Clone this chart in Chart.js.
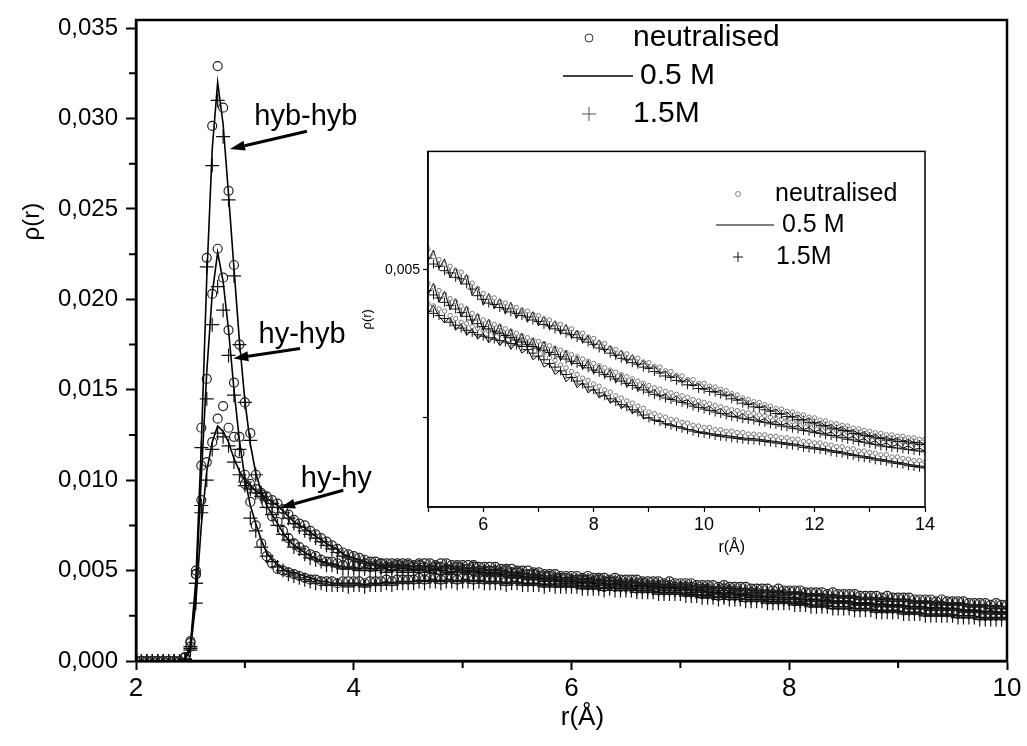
<!DOCTYPE html>
<html>
<head>
<meta charset="utf-8">
<script src="https://cdn.jsdelivr.net/npm/chart.js@4.4.0/dist/chart.umd.min.js"></script>
<style>
  body { margin: 0; background: #fff; }
  #wrap { position: relative; width: 1027px; height: 746px; }
  #inset { position: absolute; left: 340px; top: 140px; }
</style>
</head>
<body>
<div id="wrap">
  <canvas id="main" width="1027" height="746"></canvas>
  <canvas id="inset" width="600" height="430"></canvas>
</div>
<script>
// series names (same three in every group)
const seriesNames = ['neutralised', '0.5 M', '1.5M'];

// main plot: r from 2.00 to 10.00 A every 0.05
const hybhybNeut = [
  0,0,0,0,0,0,0,0,0,.0002,
  .0011,.0050,.0129,.0223,.0296,.0329,.0306,.0260,.0219,.0175,
  .0143,.0126,.0103,.0093,.0087,.0080,.0077,.0072,.0068,.0065,
  .0063,.0061,.0059,.0058,.0056,.0055,.0055,.0054,.0053,.0054,
  .0053,.0053,.0054,.0052,.0053,.0054,.0052,.0052,.0053,.0052,
  .0053,.0052,.0053,.0052,.0051,.0052,.0052,.0051,.0051,.0052,
  .0051,.0051,.0052,.0050,.0050,.0050,.0050,.0049,.0050,.0049,
  .0049,.0048,.0048,.0048,.0047,.0047,.0047,.0046,.0046,.0046,
  .0045,.0045,.0045,.0045,.0044,.0045,.0044,.0044,.0044,.0043,
  .0043,.0043,.0043,.0043,.0042,.0042,.0042,.0042,.0042,.0041,
  .0041,.0041,.0041,.0040,.0040,.0040,.0039,.0039,.0040,.0039,
  .0039,.0038,.0038,.0038,.0038,.0037,.0037,.0037,.0036,.0037,
  .0036,.0036,.0036,.0035,.0035,.0035,.0035,.0034,.0034,.0034,
  .0034,.0034,.0033,.0033,.0033,.0033,.0032,.0033,.0032,.0032,
  .0032,.0032,.0031,.0031,.0031,.0031,.0030,.0031,.0030,.0030,
  .0030,.0030,.0029,.0029,.0029,.0029,.0029,.0028,.0028,.0028,
  .0028];
const hybhyb05 = [
  0,0,0,0,0,0,0,0,0,.0001,
  .0009,.0045,.0120,.0212,.0283,.0320,.0297,.0258,.0217,.0177,
  .0144,.0120,.0104,.0094,.0086,.0081,.0076,.0071,.0067,.0064,
  .0062,.0060,.0058,.0057,.0055,.0054,.0054,.0053,.0052,.0052,
  .0052,.0051,.0052,.0051,.0051,.0052,.0051,.0050,.0051,.0051,
  .0051,.0050,.0051,.0050,.0050,.0051,.0050,.0050,.0049,.0050,
  .0050,.0049,.0050,.0049,.0049,.0048,.0049,.0048,.0048,.0047,
  .0047,.0047,.0046,.0046,.0046,.0045,.0045,.0045,.0044,.0044,
  .0044,.0044,.0043,.0044,.0043,.0043,.0043,.0042,.0043,.0042,
  .0042,.0042,.0041,.0042,.0041,.0041,.0041,.0040,.0041,.0040,
  .0040,.0040,.0039,.0039,.0039,.0038,.0038,.0038,.0037,.0038,
  .0037,.0037,.0037,.0036,.0036,.0036,.0035,.0036,.0035,.0035,
  .0035,.0035,.0034,.0034,.0034,.0034,.0033,.0034,.0033,.0033,
  .0033,.0033,.0032,.0032,.0032,.0032,.0031,.0032,.0031,.0031,
  .0031,.0031,.0030,.0030,.0030,.0030,.0029,.0030,.0029,.0029,
  .0029,.0029,.0028,.0028,.0028,.0028,.0027,.0028,.0027,.0027,
  .0027];
const hybhyb15 = [
  0,0,0,0,0,0,0,0,0,.0001,
  .0008,.0043,.0118,.0218,.0274,.0310,.0290,.0255,.0213,.0175,
  .0143,.0122,.0103,.0093,.0085,.0081,.0075,.0070,.0067,.0063,
  .0062,.0059,.0057,.0056,.0055,.0053,.0053,.0052,.0051,.0051,
  .0051,.0050,.0051,.0050,.0050,.0051,.0049,.0050,.0050,.0049,
  .0050,.0049,.0050,.0049,.0049,.0050,.0048,.0049,.0048,.0049,
  .0049,.0048,.0049,.0047,.0048,.0047,.0048,.0047,.0047,.0046,
  .0046,.0046,.0045,.0045,.0045,.0044,.0044,.0044,.0043,.0043,
  .0043,.0043,.0042,.0043,.0042,.0042,.0042,.0041,.0042,.0041,
  .0041,.0041,.0040,.0041,.0040,.0040,.0040,.0039,.0040,.0039,
  .0039,.0039,.0038,.0038,.0038,.0037,.0037,.0037,.0036,.0037,
  .0036,.0036,.0036,.0035,.0035,.0035,.0034,.0035,.0034,.0034,
  .0034,.0034,.0033,.0033,.0033,.0033,.0032,.0033,.0032,.0032,
  .0032,.0032,.0031,.0031,.0031,.0031,.0030,.0031,.0030,.0030,
  .0030,.0030,.0029,.0029,.0029,.0029,.0028,.0029,.0028,.0028,
  .0028,.0028,.0027,.0027,.0027,.0027,.0026,.0027,.0026,.0026,
  .0026];
const hyhybNeut = [
  0,0,0,0,0,0,0,0,0,.0002,
  .0010,.0048,.0108,.0156,.0203,.0228,.0212,.0183,.0154,.0124,
  .0098,.0088,.0075,.0065,.0058,.0054,.0051,.0050,.0049,.0048,
  .0047,.0046,.0045,.0045,.0044,.0044,.0044,.0043,.0044,.0044,
  .0044,.0044,.0043,.0044,.0044,.0044,.0045,.0044,.0045,.0045,
  .0045,.0045,.0046,.0045,.0046,.0046,.0045,.0046,.0046,.0045,
  .0046,.0046,.0045,.0046,.0045,.0045,.0045,.0045,.0044,.0045,
  .0045,.0044,.0044,.0044,.0044,.0043,.0044,.0043,.0043,.0043,
  .0043,.0043,.0042,.0042,.0042,.0042,.0041,.0042,.0041,.0041,
  .0041,.0041,.0040,.0040,.0040,.0040,.0039,.0039,.0039,.0039,
  .0039,.0038,.0038,.0038,.0037,.0037,.0037,.0036,.0037,.0036,
  .0036,.0036,.0035,.0035,.0035,.0035,.0034,.0034,.0034,.0034,
  .0034,.0033,.0033,.0033,.0032,.0032,.0032,.0032,.0031,.0031,
  .0031,.0031,.0030,.0030,.0030,.0030,.0029,.0029,.0029,.0029,
  .0029,.0028,.0028,.0028,.0028,.0027,.0027,.0027,.0027,.0027,
  .0027,.0026,.0026,.0026,.0026,.0025,.0025,.0025,.0025,.0025,
  .0025];
const hyhyb05 = [
  0,0,0,0,0,0,0,0,0,.0001,
  .0008,.0040,.0102,.0160,.0203,.0226,.0210,.0183,.0150,.0122,
  .0101,.0086,.0076,.0067,.0060,.0056,.0053,.0051,.0049,.0049,
  .0048,.0047,.0046,.0045,.0044,.0044,.0043,.0043,.0043,.0043,
  .0043,.0043,.0042,.0043,.0043,.0043,.0044,.0043,.0044,.0044,
  .0044,.0044,.0045,.0044,.0045,.0045,.0044,.0045,.0045,.0044,
  .0045,.0045,.0044,.0045,.0044,.0044,.0044,.0044,.0043,.0044,
  .0044,.0043,.0043,.0043,.0043,.0042,.0043,.0042,.0042,.0042,
  .0042,.0042,.0041,.0041,.0041,.0041,.0040,.0041,.0040,.0040,
  .0040,.0040,.0039,.0039,.0039,.0039,.0038,.0038,.0038,.0038,
  .0038,.0037,.0037,.0037,.0036,.0036,.0036,.0035,.0036,.0035,
  .0035,.0035,.0034,.0034,.0034,.0034,.0033,.0033,.0033,.0033,
  .0033,.0032,.0032,.0032,.0031,.0031,.0031,.0031,.0030,.0030,
  .0030,.0030,.0029,.0029,.0029,.0029,.0028,.0028,.0028,.0028,
  .0028,.0027,.0027,.0027,.0027,.0026,.0026,.0026,.0026,.0026,
  .0026,.0025,.0025,.0025,.0025,.0024,.0024,.0024,.0024,.0024,
  .0024];
const hyhyb15 = [
  0,0,0,0,0,0,0,0,0,.0001,
  .0007,.0043,.0086,.0145,.0186,.0207,.0194,.0169,.0147,.0117,
  .0097,.0079,.0072,.0063,.0058,.0055,.0052,.0050,.0048,.0047,
  .0046,.0045,.0044,.0043,.0043,.0042,.0042,.0042,.0042,.0041,
  .0042,.0042,.0041,.0042,.0042,.0042,.0043,.0042,.0043,.0043,
  .0043,.0043,.0044,.0043,.0044,.0044,.0043,.0044,.0044,.0043,
  .0044,.0044,.0043,.0044,.0043,.0043,.0043,.0043,.0042,.0043,
  .0043,.0042,.0042,.0042,.0042,.0041,.0042,.0041,.0041,.0041,
  .0041,.0041,.0040,.0040,.0040,.0040,.0039,.0040,.0039,.0039,
  .0039,.0039,.0038,.0038,.0038,.0038,.0037,.0037,.0037,.0037,
  .0037,.0036,.0036,.0036,.0035,.0035,.0035,.0034,.0035,.0034,
  .0034,.0034,.0033,.0033,.0033,.0033,.0032,.0032,.0032,.0032,
  .0032,.0031,.0031,.0031,.0030,.0030,.0030,.0030,.0029,.0029,
  .0029,.0029,.0028,.0028,.0028,.0028,.0027,.0027,.0027,.0027,
  .0027,.0026,.0026,.0026,.0026,.0025,.0025,.0025,.0025,.0025,
  .0025,.0024,.0024,.0024,.0024,.0023,.0023,.0023,.0023,.0023,
  .0023];
const hyhyNeut = [
  0,0,0,0,0,0,0,0,0,.0002,
  .0008,.0048,.0089,.0110,.0121,.0134,.0141,.0129,.0124,.0115,
  .0103,.0098,.0095,.0092,.0091,.0089,.0087,.0084,.0081,.0078,
  .0076,.0075,.0072,.0070,.0068,.0066,.0064,.0062,.0060,.0059,
  .0058,.0057,.0056,.0055,.0055,.0054,.0054,.0054,.0054,.0054,
  .0054,.0053,.0054,.0054,.0054,.0053,.0054,.0054,.0053,.0053,
  .0053,.0053,.0053,.0052,.0052,.0052,.0052,.0051,.0051,.0051,
  .0050,.0050,.0050,.0049,.0049,.0048,.0048,.0048,.0047,.0047,
  .0047,.0047,.0046,.0047,.0046,.0046,.0046,.0045,.0046,.0045,
  .0045,.0045,.0045,.0044,.0044,.0044,.0044,.0043,.0044,.0043,
  .0043,.0043,.0043,.0042,.0042,.0042,.0042,.0041,.0042,.0041,
  .0041,.0041,.0041,.0040,.0040,.0040,.0040,.0039,.0040,.0039,
  .0039,.0039,.0039,.0038,.0038,.0038,.0038,.0037,.0038,.0037,
  .0037,.0037,.0037,.0036,.0036,.0036,.0036,.0035,.0036,.0035,
  .0035,.0035,.0035,.0034,.0034,.0034,.0034,.0033,.0034,.0033,
  .0033,.0033,.0033,.0032,.0032,.0032,.0032,.0031,.0032,.0031,
  .0031];
const hyhy05 = [
  0,0,0,0,0,0,0,0,0,.0001,
  .0006,.0033,.0075,.0105,.0121,.0130,.0127,.0121,.0112,.0105,
  .0100,.0097,.0094,.0092,.0090,.0088,.0086,.0083,.0080,.0077,
  .0075,.0074,.0071,.0069,.0067,.0065,.0063,.0062,.0059,.0058,
  .0057,.0056,.0055,.0054,.0054,.0053,.0053,.0053,.0053,.0053,
  .0053,.0052,.0053,.0052,.0053,.0052,.0052,.0053,.0052,.0052,
  .0052,.0051,.0052,.0051,.0051,.0050,.0051,.0050,.0050,.0049,
  .0049,.0049,.0048,.0048,.0048,.0047,.0047,.0047,.0046,.0046,
  .0046,.0046,.0045,.0046,.0045,.0045,.0045,.0044,.0045,.0044,
  .0044,.0044,.0044,.0043,.0043,.0043,.0043,.0042,.0043,.0042,
  .0042,.0042,.0042,.0041,.0041,.0041,.0041,.0040,.0041,.0040,
  .0040,.0040,.0040,.0039,.0039,.0039,.0039,.0038,.0039,.0038,
  .0038,.0038,.0038,.0037,.0037,.0037,.0037,.0036,.0037,.0036,
  .0036,.0036,.0036,.0035,.0035,.0035,.0035,.0034,.0035,.0034,
  .0034,.0034,.0034,.0033,.0033,.0033,.0033,.0032,.0033,.0032,
  .0032,.0032,.0032,.0031,.0031,.0031,.0031,.0030,.0031,.0030,
  .0030];
const hyhy15 = [
  0,0,0,0,0,0,0,0,0,.0001,
  .0006,.0032,.0082,.0100,.0117,.0126,.0124,.0119,.0110,.0103,
  .0099,.0095,.0093,.0091,.0089,.0087,.0085,.0082,.0079,.0076,
  .0074,.0072,.0070,.0068,.0066,.0064,.0062,.0060,.0058,.0057,
  .0056,.0055,.0054,.0053,.0053,.0052,.0052,.0052,.0052,.0052,
  .0052,.0051,.0052,.0051,.0052,.0051,.0051,.0052,.0051,.0051,
  .0051,.0050,.0051,.0050,.0050,.0049,.0050,.0049,.0049,.0048,
  .0048,.0048,.0047,.0047,.0047,.0046,.0046,.0046,.0045,.0045,
  .0045,.0045,.0044,.0045,.0044,.0044,.0044,.0043,.0044,.0043,
  .0043,.0043,.0043,.0042,.0042,.0042,.0042,.0041,.0042,.0041,
  .0041,.0041,.0041,.0040,.0040,.0040,.0040,.0039,.0040,.0039,
  .0039,.0039,.0039,.0038,.0038,.0038,.0038,.0037,.0038,.0037,
  .0037,.0037,.0037,.0036,.0036,.0036,.0036,.0035,.0036,.0035,
  .0035,.0035,.0035,.0034,.0034,.0034,.0034,.0033,.0034,.0033,
  .0033,.0033,.0033,.0032,.0032,.0032,.0032,.0031,.0032,.0031,
  .0031,.0031,.0031,.0030,.0030,.0030,.0030,.0029,.0030,.0029,
  .0029];

// inset: r from 5.0 to 14.0 A every 0.1, three bands
const insetTopNeut = [
  .00528,.00518,.00514,.00508,.00505,.00499,.00497,.00490,.00482,.00475,
  .00468,.00463,.00462,.00457,.00455,.00451,.00449,.00445,.00444,.00440,
  .00438,.00433,.00432,.00427,.00426,.00421,.00420,.00415,.00414,.00409,
  .00407,.00401,.00400,.00394,.00392,.00387,.00386,.00381,.00380,.00375,
  .00374,.00369,.00368,.00363,.00362,.00357,.00356,.00351,.00351,.00346,
  .00346,.00342,.00341,.00338,.00336,.00332,.00330,.00326,.00324,.00321,
  .00320,.00317,.00315,.00312,.00311,.00308,.00307,.00304,.00303,.00300,
  .00299,.00296,.00295,.00292,.00291,.00289,.00288,.00285,.00284,.00282,
  .00281,.00279,.00278,.00276,.00276,.00274,.00274,.00272,.00272,.00270,
  .00270];
const insetTop05 = [
  .00512,.00527,.00502,.00515,.00489,.00503,.00480,.00494,.00465,.00477,
  .00452,.00468,.00447,.00461,.00440,.00456,.00434,.00449,.00429,.00443,
  .00424,.00437,.00419,.00431,.00413,.00426,.00407,.00418,.00401,.00411,
  .00395,.00405,.00388,.00397,.00381,.00391,.00374,.00385,.00369,.00377,
  .00366,.00370,.00360,.00363,.00354,.00358,.00348,.00352,.00343,.00346,
  .00338,.00341,.00334,.00337,.00329,.00332,.00323,.00326,.00317,.00320,
  .00313,.00316,.00308,.00311,.00304,.00307,.00300,.00303,.00296,.00299,
  .00292,.00294,.00288,.00290,.00284,.00287,.00281,.00283,.00277,.00280,
  .00274,.00277,.00271,.00274,.00269,.00272,.00267,.00270,.00265,.00267,
  .00263];
const insetTop15 = [
  .00516,.00508,.00505,.00499,.00496,.00490,.00488,.00481,.00474,.00465,
  .00460,.00455,.00453,.00449,.00447,.00443,.00441,.00438,.00436,.00432,
  .00430,.00426,.00424,.00420,.00418,.00414,.00412,.00408,.00406,.00402,
  .00399,.00394,.00392,.00387,.00384,.00380,.00378,.00374,.00372,.00368,
  .00366,.00362,.00360,.00356,.00354,.00350,.00348,.00344,.00343,.00339,
  .00338,.00335,.00334,.00331,.00329,.00325,.00323,.00319,.00317,.00314,
  .00313,.00310,.00308,.00305,.00304,.00301,.00300,.00297,.00296,.00293,
  .00292,.00289,.00288,.00285,.00284,.00282,.00281,.00278,.00277,.00275,
  .00274,.00272,.00271,.00269,.00269,.00267,.00267,.00265,.00265,.00263,
  .00263];
const insetMidNeut = [
  .00482,.00477,.00472,.00467,.00461,.00457,.00451,.00447,.00441,.00437,
  .00432,.00429,.00426,.00423,.00420,.00417,.00414,.00411,.00408,.00405,
  .00403,.00400,.00397,.00394,.00391,.00388,.00385,.00382,.00379,.00376,
  .00373,.00370,.00367,.00364,.00361,.00358,.00355,.00352,.00349,.00346,
  .00343,.00340,.00338,.00335,.00333,.00331,.00329,.00327,.00324,.00322,
  .00320,.00318,.00316,.00314,.00312,.00310,.00309,.00307,.00306,.00305,
  .00303,.00302,.00300,.00299,.00297,.00296,.00294,.00293,.00291,.00290,
  .00288,.00287,.00285,.00284,.00282,.00281,.00279,.00278,.00276,.00275,
  .00273,.00272,.00270,.00269,.00268,.00267,.00266,.00265,.00264,.00263,
  .00262];
const insetMid05 = [
  .00466,.00482,.00456,.00471,.00446,.00461,.00436,.00451,.00427,.00441,
  .00418,.00433,.00412,.00427,.00406,.00420,.00399,.00414,.00394,.00407,
  .00389,.00403,.00383,.00396,.00377,.00390,.00371,.00383,.00365,.00377,
  .00359,.00371,.00354,.00365,.00347,.00359,.00341,.00352,.00336,.00346,
  .00333,.00338,.00328,.00332,.00324,.00329,.00321,.00324,.00316,.00319,
  .00312,.00315,.00308,.00312,.00304,.00307,.00300,.00305,.00298,.00301,
  .00295,.00298,.00292,.00295,.00289,.00292,.00286,.00289,.00283,.00286,
  .00280,.00283,.00277,.00280,.00274,.00277,.00271,.00274,.00268,.00271,
  .00265,.00268,.00262,.00265,.00260,.00263,.00258,.00261,.00256,.00258,
  .00254];
const insetMid15 = [
  .00472,.00466,.00462,.00456,.00452,.00447,.00442,.00437,.00432,.00427,
  .00423,.00420,.00417,.00414,.00411,.00408,.00405,.00402,.00399,.00396,
  .00394,.00391,.00388,.00385,.00382,.00379,.00376,.00373,.00370,.00367,
  .00364,.00361,.00358,.00355,.00352,.00349,.00346,.00343,.00340,.00337,
  .00334,.00331,.00329,.00326,.00324,.00322,.00320,.00318,.00315,.00313,
  .00311,.00309,.00307,.00305,.00303,.00301,.00300,.00298,.00297,.00296,
  .00294,.00293,.00291,.00290,.00288,.00287,.00285,.00284,.00282,.00281,
  .00279,.00278,.00276,.00275,.00273,.00272,.00270,.00269,.00267,.00266,
  .00264,.00263,.00261,.00260,.00259,.00258,.00257,.00256,.00255,.00254,
  .00253];
const insetLowNeut = [
  .00454,.00451,.00447,.00444,.00438,.00434,.00429,.00427,.00423,.00421,
  .00418,.00417,.00414,.00413,.00410,.00409,.00406,.00405,.00400,.00396,
  .00391,.00387,.00381,.00377,.00371,.00367,.00362,.00358,.00353,.00350,
  .00345,.00342,.00337,.00334,.00329,.00326,.00322,.00319,.00315,.00312,
  .00307,.00305,.00302,.00300,.00297,.00296,.00293,.00292,.00289,.00288,
  .00286,.00286,.00283,.00283,.00281,.00281,.00279,.00279,.00277,.00277,
  .00276,.00276,.00274,.00274,.00272,.00272,.00270,.00270,.00267,.00267,
  .00265,.00265,.00263,.00262,.00260,.00260,.00257,.00257,.00254,.00254,
  .00252,.00251,.00249,.00249,.00246,.00246,.00244,.00243,.00241,.00241,
  .00239];
const insetLow05 = [
  .00441,.00452,.00437,.00428,.00436,.00418,.00427,.00411,.00420,.00406,
  .00414,.00401,.00410,.00397,.00406,.00392,.00402,.00387,.00393,.00378,
  .00384,.00368,.00373,.00358,.00364,.00348,.00356,.00340,.00347,.00333,
  .00339,.00326,.00332,.00319,.00325,.00312,.00318,.00305,.00311,.00298,
  .00300,.00295,.00296,.00290,.00291,.00287,.00287,.00283,.00283,.00280,
  .00280,.00278,.00277,.00276,.00275,.00274,.00273,.00272,.00271,.00271,
  .00270,.00269,.00268,.00267,.00266,.00265,.00264,.00263,.00261,.00260,
  .00259,.00258,.00257,.00255,.00254,.00253,.00251,.00250,.00248,.00247,
  .00246,.00244,.00243,.00242,.00240,.00239,.00238,.00236,.00235,.00234,
  .00233];
const insetLow15 = [
  .00444,.00441,.00438,.00434,.00429,.00425,.00421,.00418,.00415,.00412,
  .00410,.00408,.00406,.00404,.00402,.00400,.00398,.00396,.00392,.00387,
  .00383,.00378,.00373,.00368,.00363,.00358,.00354,.00349,.00345,.00341,
  .00337,.00333,.00329,.00325,.00321,.00317,.00314,.00310,.00307,.00303,
  .00299,.00296,.00294,.00291,.00289,.00287,.00285,.00283,.00281,.00279,
  .00278,.00277,.00275,.00274,.00273,.00272,.00271,.00270,.00269,.00269,
  .00268,.00267,.00266,.00265,.00264,.00263,.00262,.00261,.00259,.00258,
  .00257,.00256,.00255,.00253,.00252,.00251,.00249,.00248,.00246,.00245,
  .00244,.00242,.00241,.00240,.00238,.00237,.00236,.00234,.00233,.00232,
  .00231];

// tick values
const xTicksMain = [2, 4, 6, 8, 10];
const xMinorMain = [3, 5, 7, 9];
const yTicksMain = [0, .005, .010, .015, .020, .025, .030, .035];
const yMinorMain = [.0025, .0075, .0125, .0175, .0225, .0275, .0325];
const xTicksInset = [5, 6, 7, 8, 9, 10, 11, 12, 13, 14];
const yTicksInset = [.003, .005];

// peak labels, anchored in data units
const peakLabels = ['hyb-hyb', 'hy-hyb', 'hy-hy'];
const peakLabelAt = [[3.56, .0301], [3.525, .01805], [3.84, .01006]];
const arrowFrom = [[3.57, .0293], [3.506, .01728], [3.904, .00944]];
const arrowTo = [[2.863, .02831], [2.894, .01673], [3.323, .00848]];

const SANS = "'Liberation Sans', Arial, sans-serif";
const NARROW = "'Liberation Sans Narrow', 'Liberation Sans', Arial, sans-serif";
Chart.defaults.font.family = SANS;
Chart.defaults.color = '#000';

function grid(start, step, n) {
  return Array.from({length: n}, (_, i) => +(start + i * step).toFixed(2));
}
const rMain = grid(2, 0.05, hybhyb05.length);
const rInset = grid(5, 0.1, insetTop05.length);

function pts(xs, ys) { return ys.map((y, i) => ({x: xs[i], y: y})); }

function makeSet(label, xs, ys, kind, big) {
  const base = {label: label, data: pts(xs, ys), pointHoverRadius: 0};
  if (kind === 'line') {
    return Object.assign(base, {showLine: true, borderColor: '#000', borderWidth: big ? 1.6 : 1,
      pointRadius: 0, tension: 0});
  }
  if (kind === 'circle') {
    return Object.assign(base, {showLine: false, pointStyle: 'circle', pointRadius: big ? 4.5 : 2.2,
      pointBorderColor: big ? '#222' : '#777', pointBackgroundColor: 'rgba(0,0,0,0)',
      pointBorderWidth: big ? 1.2 : 1});
  }
  return Object.assign(base, {showLine: false, pointStyle: 'cross', pointRadius: big ? 7 : 4.5,
    pointBorderColor: '#111', pointBorderWidth: big ? 1.2 : 1});
}

function groupSets(xs, groups, big) {
  const out = [];
  groups.forEach(g => {
    out.push(makeSet(seriesNames[0], xs, g[0], 'circle', big));
    out.push(makeSet(seriesNames[1], xs, g[1], 'line', big));
    out.push(makeSet(seriesNames[2], xs, g[2], 'cross', big));
  });
  return out;
}

function drawArrow(ctx, x1, y1, x2, y2) {
  const a = Math.atan2(y2 - y1, x2 - x1);
  const head = 15, half = 5;
  const bx = x2 - head * Math.cos(a), by = y2 - head * Math.sin(a);
  ctx.lineWidth = 3;
  ctx.beginPath(); ctx.moveTo(x1, y1); ctx.lineTo(bx, by); ctx.stroke();
  ctx.beginPath(); ctx.moveTo(x2, y2);
  ctx.lineTo(bx + half * Math.sin(a), by - half * Math.cos(a));
  ctx.lineTo(bx - half * Math.sin(a), by + half * Math.cos(a));
  ctx.closePath(); ctx.fill();
}

function drawLegend(ctx, L) {
  ctx.save();
  ctx.font = L.font + 'px ' + SANS;
  ctx.textBaseline = 'middle'; ctx.textAlign = 'left'; ctx.fillStyle = '#000';
  ctx.strokeStyle = L.circleColor; ctx.lineWidth = 1;
  ctx.beginPath(); ctx.arc(L.markX, L.rows[0], L.circleR, 0, 2 * Math.PI); ctx.stroke();
  ctx.fillText(seriesNames[0], L.textX[0], L.rows[0]);
  ctx.strokeStyle = '#000'; ctx.lineWidth = L.lineW;
  ctx.beginPath(); ctx.moveTo(L.lineFrom, L.rows[1]); ctx.lineTo(L.lineTo, L.rows[1]); ctx.stroke();
  ctx.fillText(seriesNames[1], L.textX[1], L.rows[1]);
  ctx.strokeStyle = L.plusColor; ctx.lineWidth = 1;
  ctx.beginPath();
  ctx.moveTo(L.markX - L.plusR, L.rows[2]); ctx.lineTo(L.markX + L.plusR, L.rows[2]);
  ctx.moveTo(L.markX, L.rows[2] - L.plusR); ctx.lineTo(L.markX, L.rows[2] + L.plusR);
  ctx.stroke();
  ctx.fillText(seriesNames[2], L.textX[2], L.rows[2]);
  ctx.restore();
}

function fmt(v) { return v.toFixed(3).replace('.', ','); }

// ---------- main chart ----------
const mainDecor = {
  id: 'mainDecor',
  afterDraw(chart) {
    const ctx = chart.ctx, a = chart.chartArea, sx = chart.scales.x, sy = chart.scales.y;
    ctx.save();
    ctx.strokeStyle = '#000'; ctx.fillStyle = '#000';
    ctx.lineWidth = 2.5;
    ctx.strokeRect(a.left, a.top, a.right - a.left, a.bottom - a.top);
    ctx.lineWidth = 2;
    ctx.beginPath();
    yMinorMain.forEach(v => { const y = sy.getPixelForValue(v); ctx.moveTo(a.left - 7, y); ctx.lineTo(a.left, y); });
    xMinorMain.forEach(v => { const x = sx.getPixelForValue(v); ctx.moveTo(x, a.bottom); ctx.lineTo(x, a.bottom + 7); });
    ctx.stroke();
    // axis titles
    ctx.font = '26px ' + NARROW; ctx.textAlign = 'center'; ctx.textBaseline = 'middle';
    ctx.fillText('r(Å)', sx.getPixelForValue(6.1), 718);
    ctx.save();
    ctx.translate(32, sy.getPixelForValue(.0243)); ctx.rotate(-Math.PI / 2);
    ctx.font = '24px ' + SANS;
    ctx.fillText('ρ(r)', 0, 0);
    ctx.restore();
    // peak labels + arrows
    ctx.font = '29px ' + SANS;
    peakLabels.forEach((t, i) => {
      ctx.fillText(t, sx.getPixelForValue(peakLabelAt[i][0]), sy.getPixelForValue(peakLabelAt[i][1]));
      drawArrow(ctx, sx.getPixelForValue(arrowFrom[i][0]), sy.getPixelForValue(arrowFrom[i][1]),
        sx.getPixelForValue(arrowTo[i][0]), sy.getPixelForValue(arrowTo[i][1]));
    });
    ctx.restore();
    drawLegend(ctx, {font: 30, markX: 589, rows: [38, 76, 114], textX: [633, 640, 633],
      lineFrom: 563, lineTo: 633, lineW: 1.5, circleR: 4, plusR: 7,
      circleColor: '#333', plusColor: '#555'});
  }
};

new Chart(document.getElementById('main'), {
  type: 'scatter',
  data: {
    datasets: groupSets(rMain, [
      [hybhybNeut, hybhyb05, hybhyb15],
      [hyhybNeut, hyhyb05, hyhyb15],
      [hyhyNeut, hyhy05, hyhy15]
    ], true)
  },
  options: {
    responsive: false, animation: false, devicePixelRatio: 1,
    layout: {padding: {top: 13, right: 20, left: 0, bottom: 0}},
    plugins: {legend: {display: false}, tooltip: {enabled: false}},
    scales: {
      x: {
        type: 'linear', min: 2, max: 10,
        afterBuildTicks: s => { s.ticks = xTicksMain.map(v => ({value: v})); },
        afterFit: s => { s.height = 85; },
        ticks: {font: {size: 26, family: NARROW}, padding: 3, maxRotation: 0, autoSkip: false,
          callback: v => String(v)},
        grid: {display: true, drawOnChartArea: false, drawTicks: true, tickLength: 9, tickWidth: 2, tickColor: '#000'},
        border: {display: true, color: '#000', width: 2.5}
      },
      y: {
        type: 'linear', min: 0, max: .03545,
        afterBuildTicks: s => { s.ticks = yTicksMain.map(v => ({value: v})); },
        afterFit: s => { s.width = 136; },
        ticks: {font: {size: 24, lineHeight: 1}, padding: 8, autoSkip: false, callback: v => fmt(v)},
        grid: {display: true, drawOnChartArea: false, drawTicks: true, tickLength: 10, tickWidth: 2, tickColor: '#000'},
        border: {display: true, color: '#000', width: 2.5}
      }
    }
  },
  plugins: [mainDecor]
});

// ---------- inset chart ----------
const insetDecor = {
  id: 'insetDecor',
  afterDraw(chart) {
    const ctx = chart.ctx, a = chart.chartArea, sx = chart.scales.x, sy = chart.scales.y;
    ctx.save();
    ctx.strokeStyle = '#000'; ctx.fillStyle = '#000'; ctx.lineWidth = 1.5;
    ctx.strokeRect(a.left, a.top, a.right - a.left, a.bottom - a.top);
    ctx.textAlign = 'center'; ctx.textBaseline = 'middle';
    ctx.font = '16px ' + NARROW;
    ctx.fillText('r(Å)', sx.getPixelForValue(10.5), 408);
    ctx.save();
    ctx.translate(27, sy.getPixelForValue(.00433)); ctx.rotate(-Math.PI / 2);
    ctx.font = '13px ' + SANS;
    ctx.fillText('ρ(r)', 0, 0);
    ctx.restore();
    ctx.restore();
    drawLegend(ctx, {font: 25, markX: 398, rows: [54, 85, 117], textX: [435, 442, 436],
      lineFrom: 376, lineTo: 434, lineW: 1, circleR: 2.5, plusR: 5,
      circleColor: '#888', plusColor: '#111'});
  }
};

new Chart(document.getElementById('inset'), {
  type: 'scatter',
  data: {
    datasets: groupSets(rInset, [
      [insetTopNeut, insetTop05, insetTop15],
      [insetMidNeut, insetMid05, insetMid15],
      [insetLowNeut, insetLow05, insetLow15]
    ], false)
  },
  options: {
    responsive: false, animation: false, devicePixelRatio: 1,
    layout: {padding: {top: 7, right: 15, left: 0, bottom: 0}},
    plugins: {legend: {display: false}, tooltip: {enabled: false}},
    scales: {
      x: {
        type: 'linear', min: 5, max: 14,
        afterBuildTicks: s => { s.ticks = xTicksInset.map(v => ({value: v})); },
        afterFit: s => { s.height = 63; },
        ticks: {font: {size: 18}, padding: 2, maxRotation: 0, autoSkip: false,
          callback: v => (v % 2 === 0 ? String(v) : '')},
        grid: {display: true, drawOnChartArea: false, drawTicks: true, tickLength: 5, tickWidth: 1.2, tickColor: '#000'},
        border: {display: true, color: '#555', width: 2}
      },
      y: {
        type: 'linear', min: .00178, max: .00661,
        afterBuildTicks: s => { s.ticks = yTicksInset.map(v => ({value: v})); },
        afterFit: s => { s.width = 88; },
        ticks: {font: {size: 14}, padding: 3, autoSkip: false,
          callback: v => (Math.abs(v - .005) < 1e-9 ? fmt(v) : '')},
        grid: {display: true, drawOnChartArea: false, drawTicks: true, tickLength: 5, tickWidth: 1.2, tickColor: '#000'},
        border: {display: true, color: '#000', width: 1.5}
      }
    }
  },
  plugins: [insetDecor]
});
</script>
</body>
</html>
